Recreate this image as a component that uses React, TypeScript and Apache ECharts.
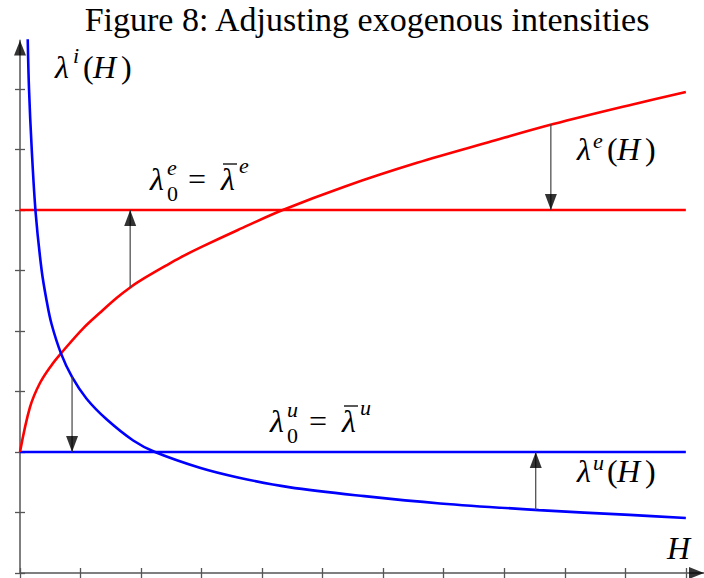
import React, { useEffect, useRef } from "react";
import * as echarts from "echarts";

const TITLE = "Figure 8: Adjusting exogenous intensities";

// axis ticks
const hTicks = [0, 1, 2, 3, 4, 5, 6, 7, 8, 9, 10, 11];
const yTicks = [0, 1, 2, 3, 4, 5, 6, 7, 8];
const H_MAX = 11.3;
const Y_MAX = 8.8;

// constant reference intensities
const lambdaE0 = 6;
const lambdaU0 = 2;
const flatEnd = 11;

// lambda^e(H)
const redH = [0, 0.165, 0.33, 0.524, 0.677, 1.04, 1.33, 1.6, 1.82, 2.0, 2.41, 2.64, 3.0, 3.6, 4.34, 5.37, 6.56, 7.74, 8.81, 10.12, 11.0];
const redV = [2.0, 2.74, 3.14, 3.44, 3.63, 4.04, 4.31, 4.55, 4.72, 4.84, 5.08, 5.21, 5.39, 5.67, 6.0, 6.39, 6.78, 7.12, 7.42, 7.745, 7.95];

// lambda^u(H)
const blueH = [0.127, 0.149, 0.193, 0.259, 0.358, 0.44, 0.52, 0.677, 0.859, 1.1, 1.43, 1.87, 2.23, 2.97, 3.6, 4.44, 5.69, 6.94, 8.57, 10.07, 11.0];
const blueV = [8.85, 8.0, 7.02, 5.95, 5.0, 4.5, 4.12, 3.63, 3.24, 2.88, 2.54, 2.19, 2.0, 1.74, 1.58, 1.42, 1.27, 1.15, 1.04, 0.96, 0.91];

// adjustment arrows: from the curve to the constant level
const arrowH = [1.82, 8.77, 0.86, 8.52];
const arrowFrom = [4.72, 7.42, 3.24, 1.04];
const arrowTo = [6, 6, 2, 2];

const RED = "#ff0000";
const BLUE = "#0000ff";
const AXIS = "#7f7f7f";
const SERIF = "'Liberation Serif', 'DejaVu Serif', serif";
const M = 32;
const S = 22;

function glyph(text: string, x: number, baseline: number, size: number, italic: boolean) {
  return {
    type: "text",
    x,
    y: baseline - 0.34 * size,
    silent: true,
    style: {
      text,
      fontFamily: SERIF,
      fontSize: size,
      fontStyle: italic ? "italic" : "normal",
      fill: "#000",
      align: "left",
      verticalAlign: "middle",
    },
  };
}

function bar(x1: number, x2: number, y: number) {
  return {
    type: "line",
    silent: true,
    shape: { x1, y1: y, x2, y2: y },
    style: { stroke: "#000", lineWidth: 1.3 },
  };
}

function zip(a: number[], b: number[]) {
  return a.map((v, i) => [v, b[i]]);
}

export default function App() {
  const ref = useRef<HTMLDivElement>(null);

  useEffect(() => {
    if (!ref.current) return;
    const chart = echarts.init(ref.current, null, { renderer: "svg" });

    const tickAxis = (inside: boolean, values: number[]) => ({
      show: true,
      inside,
      length: 5,
      customValues: values,
      lineStyle: { color: "#555", width: 1.3 },
    });

    const xBase = {
      type: "value",
      min: 0,
      max: H_MAX,
      position: "bottom",
      axisLabel: { show: false },
      splitLine: { show: false },
    };
    const yBase = {
      type: "value",
      min: 0,
      max: Y_MAX,
      position: "left",
      axisLabel: { show: false },
      splitLine: { show: false },
    };

    const shafts = arrowH.map((h, i) => ({
      type: "line",
      data: [
        [h, arrowFrom[i]],
        [h, arrowTo[i]],
      ],
      symbol: "none",
      silent: true,
      z: 3,
      lineStyle: { color: "#444", width: 1.2 },
    }));

    const upHeads = arrowH
      .map((h, i) => ({ h, from: arrowFrom[i], to: arrowTo[i] }))
      .filter((a) => a.to > a.from)
      .map((a) => [a.h, a.to]);
    const downHeads = arrowH
      .map((h, i) => ({ h, from: arrowFrom[i], to: arrowTo[i] }))
      .filter((a) => a.to < a.from)
      .map((a) => [a.h, a.to]);

    chart.setOption({
      animation: false,
      grid: { left: 20, right: 0, top: 40.6, bottom: 5, containLabel: false, outerBoundsMode: "none" },
      xAxis: [
        {
          ...xBase,
          axisLine: { show: true, onZero: false, lineStyle: { color: AXIS, width: 2 } },
          axisTick: tickAxis(false, hTicks),
        },
        {
          ...xBase,
          axisLine: { show: false },
          axisTick: tickAxis(true, hTicks),
        },
      ],
      yAxis: [
        {
          ...yBase,
          axisLine: { show: true, onZero: false, lineStyle: { color: AXIS, width: 2 } },
          axisTick: tickAxis(false, yTicks),
        },
        {
          ...yBase,
          axisLine: { show: false },
          axisTick: tickAxis(true, yTicks),
        },
      ],
      series: [
        {
          type: "line",
          data: [
            [0, lambdaE0],
            [flatEnd, lambdaE0],
          ],
          symbol: "none",
          silent: true,
          lineStyle: { color: RED, width: 2.6 },
        },
        {
          type: "line",
          data: [
            [0, lambdaU0],
            [flatEnd, lambdaU0],
          ],
          symbol: "none",
          silent: true,
          lineStyle: { color: BLUE, width: 2.6 },
        },
        {
          type: "line",
          data: zip(redH, redV),
          symbol: "none",
          smooth: 0.35,
          silent: true,
          lineStyle: { color: RED, width: 2.6 },
        },
        {
          type: "line",
          data: zip(blueH, blueV),
          symbol: "none",
          smooth: 0.35,
          silent: true,
          lineStyle: { color: BLUE, width: 2.6 },
        },
        ...shafts,
        {
          type: "scatter",
          data: upHeads,
          symbol: "triangle",
          symbolSize: [12, 16],
          symbolOffset: [0, 8],
          silent: true,
          z: 5,
          itemStyle: { color: "#000" },
        },
        {
          type: "scatter",
          data: downHeads,
          symbol: "triangle",
          symbolSize: [12, 16],
          symbolRotate: 180,
          symbolOffset: [0, -8],
          silent: true,
          z: 5,
          itemStyle: { color: "#000" },
        },
        {
          type: "scatter",
          data: [[0, Y_MAX]],
          symbol: "triangle",
          symbolSize: [12, 15],
          symbolOffset: [0, 7.5],
          clip: false,
          silent: true,
          z: 5,
          itemStyle: { color: "#000" },
        },
        {
          type: "scatter",
          data: [[H_MAX, 0]],
          symbol: "triangle",
          symbolSize: [12, 15],
          symbolRotate: -90,
          symbolOffset: [-7.5, 0],
          clip: false,
          silent: true,
          z: 5,
          itemStyle: { color: "#000" },
        },
      ],
      graphic: [
        {
          type: "text",
          x: 367,
          y: 31 - 0.34 * 34,
          silent: true,
          style: {
            text: TITLE,
            fontFamily: SERIF,
            fontSize: 34,
            fill: "#000",
            align: "center",
            verticalAlign: "middle",
          },
        },
        // λ^i(H)
        glyph("λ", 55, 78, M, true),
        glyph("i", 73, 63, S, true),
        glyph("(", 83, 78, M, false),
        glyph("H", 93, 78, M, true),
        glyph(")", 121, 78, M, false),
        // λ^e(H)
        glyph("λ", 577, 160, M, true),
        glyph("e", 593, 148, S, true),
        glyph("(", 607, 160, M, false),
        glyph("H", 617, 160, M, true),
        glyph(")", 645, 160, M, false),
        // λ^u(H)
        glyph("λ", 577, 482, M, true),
        glyph("u", 593, 470, S, true),
        glyph("(", 607, 482, M, false),
        glyph("H", 617, 482, M, true),
        glyph(")", 645, 482, M, false),
        // λ_0^e = λ̄^e
        glyph("λ", 150, 190, M, true),
        glyph("e", 167, 175, S, true),
        glyph("0", 167, 201, S, false),
        glyph("=", 188, 190, M, false),
        glyph("λ", 221, 190, M, true),
        bar(223, 237, 164),
        glyph("e", 239, 173, S, true),
        // λ_0^u = λ̄^u
        glyph("λ", 270, 432, M, true),
        glyph("u", 287, 417, S, true),
        glyph("0", 287, 443, S, false),
        glyph("=", 309, 432, M, false),
        glyph("λ", 342, 432, M, true),
        bar(344, 358, 406),
        glyph("u", 360, 415, S, true),
        // axis label
        glyph("H", 667, 559, M, true),
      ],
    });

    return () => chart.dispose();
  }, []);

  return (
    <div
      ref={ref}
      style={{ position: "absolute", left: 0, top: 0, width: 704, height: 578, background: "#fff" }}
    />
  );
}
